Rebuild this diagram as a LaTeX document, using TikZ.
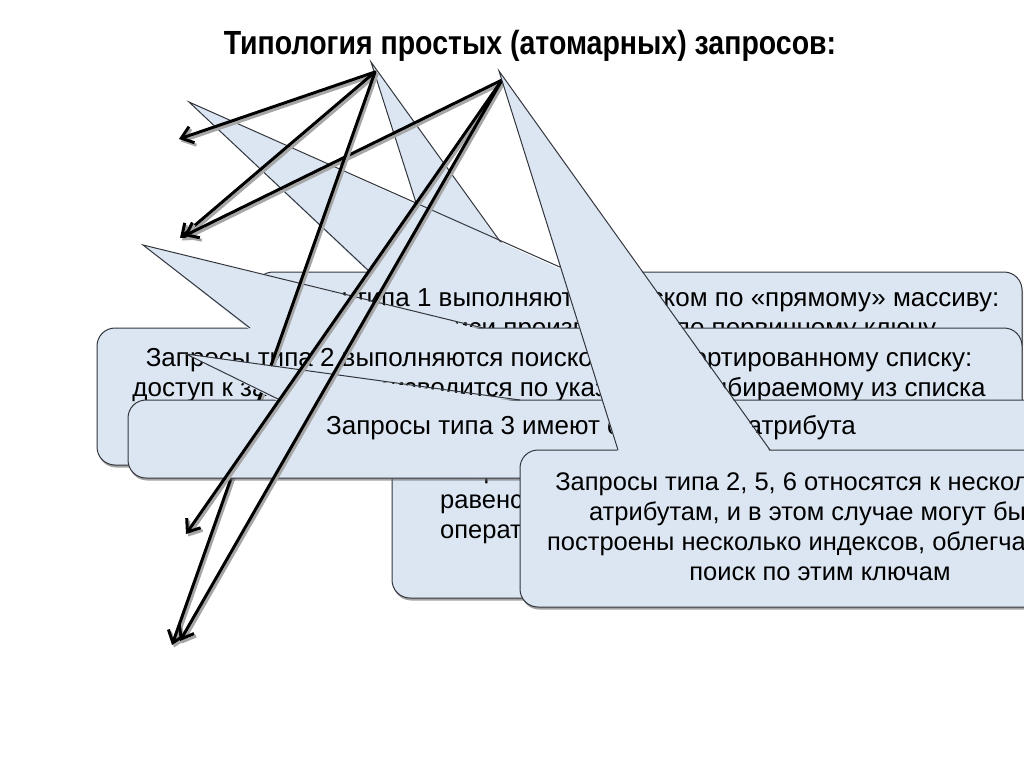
\documentclass[tikz,border=0pt]{standalone}
\usepackage{fontspec}
\setmainfont{Liberation Sans}
\newfontfamily\narrowfont[FakeStretch=0.85]{Liberation Sans}
\usetikzlibrary{arrows.meta,shadows}

\definecolor{callblue}{RGB}{220,230,242}
\definecolor{calledge}{RGB}{50,54,60}

\tikzset{
  callout/.style={fill=callblue, draw=calledge, line width=1pt, rounded corners=18pt,
                  drop shadow={shadow xshift=1pt, shadow yshift=-2.5pt, fill=black!60, opacity=.6}},
  tri/.style={fill=callblue},
  triedge/.style={draw=calledge, line width=1pt, line join=miter},
  txt/.style={font=\fontsize{26}{30}\selectfont, align=center, inner sep=0pt},
  smalltxt/.style={txt, font=\fontsize{25.5}{30}\selectfont},
  titletxt/.style={font=\narrowfont\bfseries\fontsize{33.5}{38}\selectfont, inner sep=0pt},
  arr/.style={line width=3pt, line cap=round, -{Straight Barb[length=11pt,width=17pt,line width=3pt]}},
  arrshade/.style={arr, draw=black!35, transform canvas={xshift=2pt,yshift=-2.5pt}}
}

\begin{document}
\begin{tikzpicture}[x=1pt,y=-1pt]
\useasboundingbox (0,0) rectangle (1024,768);
% title
\node[titletxt, anchor=base] (title) at (530,55) {Типология простых (атомарных) запросов:};
% pointer tips and arrow ends
\coordinate (tip4) at (371,62);
\coordinate (tip1) at (189,102);
\coordinate (tip2) at (143,245);
\coordinate (tip3) at (186,354);
\coordinate (tip5) at (499,71);
\coordinate (src1) at (375,72);
\coordinate (src2) at (502,80);
\coordinate (end1) at (179,139);
\coordinate (end2) at (180,238);
\coordinate (end3) at (184,236);
\coordinate (end4) at (172,645);
\coordinate (end5) at (186,534);
\coordinate (end6) at (180,641);

% callout of type 4, lies behind the others
\draw[callout] (392,415) rectangle (900,598);
\fill[tri] (484,417) -- (tip4) -- (625,417) -- cycle;
\draw[triedge] (484,415) -- (tip4) -- (625,415);
\node[smalltxt, align=left, anchor=west] (q4) at (440,502.5)
  {Запросы типа 4 используют условия\\равенства значений атрибутов\\операторами сравнения};

% callout of type 1
\draw[callout] (255,272) rectangle (1022,362);
\fill[tri] (370,274) -- (tip1) -- (571,274) -- cycle;
\draw[triedge] (370,272) -- (tip1) -- (571,272);
\node[txt] (q1) at (621,315.5)
  {Запросы типа 1 выполняются поиском по «прямому» массиву:\\доступ к записи производится по первичному ключу};

% callout of type 2
\draw[callout] (97,328) rectangle (1022,465);
\fill[tri] (250,330) -- (tip2) -- (483,330) -- cycle;
\draw[triedge] (250,328) -- (tip2) -- (483,328);
\node[txt] (q2) at (559,375.5)
  {Запросы типа 2 выполняются поиском по отсортированному списку:\\доступ к записям производится по указателю, выбираемому из списка};

% arrows, first group
\foreach \s/\e in {src1/end1, src1/end2, src2/end3, src1/end4} {
  \draw[arrshade] (\s) -- (\e);
  \draw[arr] (\s) -- (\e);
}

% callout of type 3
\draw[callout] (128,400) rectangle (1070,478);
\fill[tri] (280,402) -- (tip3) -- (520,402) -- cycle;
\draw[triedge] (280,400) -- (tip3) -- (520,400);
\node[txt] (q3) at (591,427.5) {Запросы типа 3 имеют отношение атрибута};

% arrows, second group
\foreach \s/\e in {src2/end5, src2/end6} {
  \draw[arrshade] (\s) -- (\e);
  \draw[arr] (\s) -- (\e);
}

% callout of types 2, 5, 6
\draw[callout] (520,450) rectangle (1120,607);
\fill[tri] (618,452) -- (tip5) -- (770,452) -- cycle;
\draw[triedge] (618,450) -- (tip5) -- (770,450);
\node[smalltxt] (q5) at (820,526.5)
  {Запросы типа 2, 5, 6 относятся к нескольким\\атрибутам, и в этом случае могут быть\\построены несколько индексов, облегчающих\\поиск по этим ключам};
\end{tikzpicture}
\end{document}
